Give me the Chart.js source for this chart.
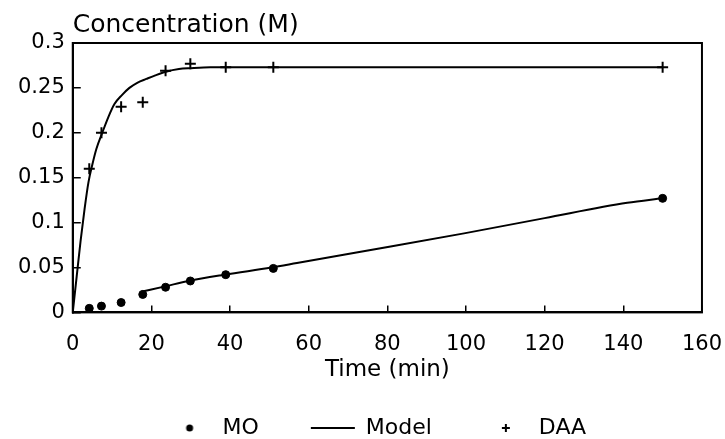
<!DOCTYPE html>
<html>
<head>
<meta charset="utf-8">
<script src="https://cdn.jsdelivr.net/npm/chart.js@4.4.1/dist/chart.umd.min.js"></script>
<style>
  html, body { margin: 0; padding: 0; background: #fff; }
</style>
</head>
<body>
<canvas id="myChart" width="725" height="439"></canvas>
<script>
// measured points
var timePts = [4.2, 7.3, 12.3, 17.8, 23.6, 29.9, 38.9, 51, 150];
var moValues = [0.0045, 0.007, 0.011, 0.02, 0.028, 0.035, 0.042, 0.049, 0.127];
var daaValues = [0.16, 0.2, 0.229, 0.234, 0.269, 0.277, 0.273, 0.273, 0.273];

// model curves
var modelTimeDAA = [0, 1, 2, 3, 4, 5, 6, 7.5, 9, 10.6, 12.5, 14.4, 16.5, 18.7, 21, 23.7, 27, 30, 35, 50, 100, 150];
var modelDAA = [0, 0.04, 0.08, 0.115, 0.145, 0.165, 0.182, 0.2, 0.217, 0.232, 0.242, 0.25, 0.256, 0.26, 0.264, 0.268, 0.271, 0.272, 0.273, 0.273, 0.273, 0.273];
var modelTimeMO = [17.4, 23.5, 29.5, 38.7, 50.5, 57, 72.5, 99.5, 120, 141, 150];
var modelMO = [0.023, 0.029, 0.035, 0.042, 0.05, 0.055, 0.067, 0.088, 0.105, 0.122, 0.127];

var xTicks = [0, 20, 40, 60, 80, 100, 120, 140, 160];
var yTicks = [0, 0.05, 0.1, 0.15, 0.2, 0.25, 0.3];
var seriesNames = ["MO", "Model", "DAA"];

function pairs(xs, ys) {
    return xs.map(function (x, i) { return { x: x, y: ys[i] }; });
}

var modelData = pairs(modelTimeDAA, modelDAA)
    .concat([{ x: 150, y: null }])
    .concat(pairs(modelTimeMO, modelMO));

// little marker images for the legend (dot and plus)
function marker(kind) {
    var c = document.createElement("canvas");
    c.width = 10;
    c.height = 10;
    var g = c.getContext("2d");
    g.fillStyle = "#000";
    g.strokeStyle = "#000";
    if (kind === "dot") {
        g.beginPath();
        g.arc(5, 5, 3.5, 0, Math.PI * 2);
        g.fill();
    } else {
        g.lineWidth = 2;
        g.beginPath();
        g.moveTo(1, 5); g.lineTo(9, 5);
        g.moveTo(5, 1); g.lineTo(5, 9);
        g.stroke();
    }
    return c;
}

var framePlugin = {
    id: "frame",
    afterDraw: function (chart) {
        var a = chart.chartArea, ctx = chart.ctx;
        ctx.save();
        ctx.strokeStyle = "#000";
        ctx.lineWidth = 2;
        ctx.strokeRect(a.left, a.top, a.right - a.left, a.bottom - a.top);
        ctx.restore();
    }
};

Chart.defaults.font.family = "DejaVu Sans";
Chart.defaults.color = "#000";

new Chart("myChart", {
    type: "line",
    data: {
        datasets: [{
            label: seriesNames[0],
            data: pairs(timePts, moValues),
            showLine: false,
            pointStyle: "circle",
            pointRadius: 4,
            backgroundColor: "#000",
            borderColor: "#000"
        }, {
            label: seriesNames[1],
            data: modelData,
            borderColor: "#000",
            borderWidth: 2,
            pointRadius: 0,
            cubicInterpolationMode: "monotone",
            spanGaps: false
        }, {
            label: seriesNames[2],
            data: pairs(timePts, daaValues),
            showLine: false,
            pointStyle: "cross",
            pointRadius: 5.5,
            pointBorderWidth: 2,
            borderColor: "#000",
            backgroundColor: "#000"
        }]
    },
    options: {
        responsive: false,
        animation: false,
        layout: { padding: { left: 2, right: 19, top: 0, bottom: -10 } },
        plugins: {
            tooltip: { enabled: false },
            title: {
                display: true,
                text: "Concentration (M)",
                align: "start",
                position: "top",
                fullSize: false,
                padding: { top: 10, bottom: 3 },
                color: "#000",
                font: { size: 25, weight: "normal" }
            },
            legend: {
                position: "bottom",
                fullSize: false,
                labels: {
                    usePointStyle: true,
                    pointStyleWidth: 44,
                    boxHeight: 6,
                    padding: 10,
                    color: "#000",
                    font: { size: 22 },
                    generateLabels: function () {
                        var styles = [marker("dot"), "line", marker("plus")];
                        var gaps = [6, 6, 3];
                        return seriesNames.map(function (name, i) {
                            return {
                                text: name + "\u00a0".repeat(gaps[i]),
                                datasetIndex: i,
                                pointStyle: styles[i],
                                fillStyle: "#000",
                                strokeStyle: "#000",
                                lineWidth: 2,
                                fontColor: "#000"
                            };
                        });
                    }
                }
            }
        },
        scales: {
            x: {
                type: "linear",
                min: 0,
                max: 160,
                afterBuildTicks: function (s) {
                    s.ticks = xTicks.map(function (v) { return { value: v }; });
                },
                ticks: { font: { size: 21, lineHeight: 3.4 }, padding: 3, maxRotation: 0, autoSkip: false },
                grid: { drawOnChartArea: false, tickLength: -7, color: "#000", lineWidth: 1.5 },
                border: { color: "#000", width: 2 },
                title: {
                    display: true,
                    text: "Time (min)",
                    color: "#000",
                    font: { size: 23 },
                    padding: { top: -26.4, bottom: 23 }
                }
            },
            y: {
                min: 0,
                max: 0.3,
                afterBuildTicks: function (s) {
                    s.ticks = yTicks.map(function (v) { return { value: v }; });
                },
                ticks: {
                    font: { size: 21 },
                    padding: 16,
                    callback: function (v) { return String(v); }
                },
                grid: { drawOnChartArea: false, tickLength: -8, color: "#000", lineWidth: 1.5 },
                border: { color: "#000", width: 2 }
            }
        }
    },
    plugins: [framePlugin]
});
</script>
</body>
</html>
